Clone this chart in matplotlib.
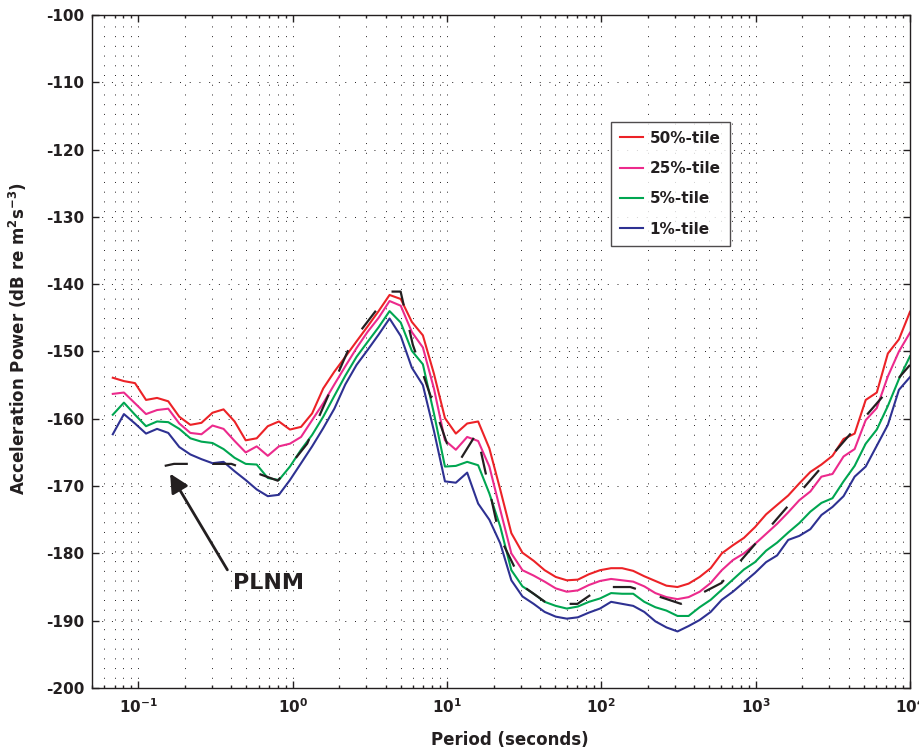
import numpy as np
import matplotlib
matplotlib.use('Agg')
import matplotlib.pyplot as plt
from matplotlib.ticker import LogLocator, LogFormatterMathtext, NullFormatter, MultipleLocator

plt.rcParams['font.family'] = ['DejaVu Sans']
plt.rcParams['font.weight'] = 'bold'
plt.rcParams['mathtext.default'] = 'bf'
plt.rcParams['axes.unicode_minus'] = False

INK = '#231f20'

# period of each spectral estimate (seconds)
period = [0.0682, 0.0805, 0.095, 0.112, 0.132, 0.156, 0.184, 0.217, 0.256, 0.302,
          0.356, 0.420, 0.4955, 0.584, 0.689, 0.813, 0.959, 1.132, 1.335, 1.575,
          1.86, 2.19, 2.59, 3.05, 3.60, 4.24, 5.01, 5.91, 6.97, 8.22,
          9.69, 11.4, 13.5, 15.9, 18.8, 22.1, 26.1, 30.8, 36.4, 42.9,
          50.6, 59.7, 70.4, 83.04, 97.95, 115.6, 136.3, 160.8, 189.7, 223.8,
          264.0, 311.4, 367.3, 433.4, 511.0, 603.0, 711.2, 839.0, 989.7, 1168.0,
          1377.0, 1625.0, 1917.0, 2261.0, 2667.0, 3146.0, 3711.0, 4378.0, 5164.0, 6093.0,
          7187.0, 8478.0, 10000.0]

p50 = [-153.9, -154.4, -154.7, -157.2, -156.9, -157.4, -159.7, -160.9, -160.6, -159.1,
       -158.6, -160.4, -163.2, -162.9, -161.1, -160.4, -161.6, -161.2, -159.2, -155.5,
       -153.0, -150.8, -148.5, -146.3, -144.0, -141.6, -142.2, -145.6, -147.6, -153.3,
       -159.9, -162.2, -160.7, -160.4, -164.4, -170.5, -177.0, -179.9, -181.1, -182.5,
       -183.5, -184.0, -183.9, -183.1, -182.5, -182.2, -182.2, -182.6, -183.4, -184.1,
       -184.8, -185.0, -184.5, -183.5, -182.2, -180.0, -178.8, -177.7, -176.1, -174.2,
       -172.8, -171.4, -169.6, -167.9, -166.8, -165.5, -163.0, -162.2, -157.2, -156.1,
       -150.3, -148.2, -144.1]

p25 = [-156.3, -156.1, -157.7, -159.3, -158.7, -158.5, -160.7, -162.1, -162.3, -161.0,
       -161.5, -163.3, -165.0, -164.1, -165.5, -164.1, -163.7, -162.7, -160.2, -157.7,
       -154.9, -152.2, -149.5, -147.1, -145.0, -142.5, -143.2, -147.1, -149.4, -155.5,
       -163.2, -164.6, -162.7, -163.3, -167.1, -173.5, -180.0, -182.5, -183.3, -184.2,
       -185.2, -185.7, -185.5, -184.7, -184.1, -183.8, -184.0, -184.2, -184.9, -185.9,
       -186.5, -186.8, -186.5, -185.7, -184.4, -182.5, -181.0, -180.0, -178.6, -177.1,
       -175.6, -173.9, -172.1, -170.8, -168.6, -168.2, -165.6, -164.5, -160.2, -158.4,
       -153.7, -150.0, -147.2]

p5 = [-159.4, -157.6, -159.4, -161.1, -160.4, -160.5, -161.5, -162.9, -163.4, -163.6,
      -164.5, -165.8, -166.7, -166.8, -168.8, -169.1, -167.1, -164.6, -162.4, -159.7,
      -156.6, -153.6, -150.8, -148.6, -146.4, -144.0, -145.7, -149.9, -151.9, -159.2,
      -167.1, -167.0, -166.4, -166.9, -171.1, -176.0, -182.5, -184.9, -186.0, -187.2,
      -187.8, -188.2, -187.9, -187.2, -186.7, -185.9, -186.0, -186.0, -187.2, -188.0,
      -188.5, -189.3, -189.3, -188.0, -186.9, -185.4, -183.9, -182.4, -181.3, -179.6,
      -178.4, -176.9, -175.5, -173.8, -172.5, -171.8, -169.3, -167.0, -163.7, -161.6,
      -158.1, -154.1, -150.7]

p1 = [-162.3, -159.3, -160.7, -162.2, -161.5, -162.1, -164.2, -165.3, -166.0, -166.6,
      -166.4, -167.8, -169.1, -170.5, -171.5, -171.3, -169.1, -166.6, -164.1, -161.4,
      -158.5, -154.9, -152.0, -149.8, -147.5, -145.1, -147.7, -152.4, -155.0, -161.8,
      -169.3, -169.5, -168.0, -172.6, -175.0, -178.5, -184.0, -186.4, -187.5, -188.7,
      -189.4, -189.7, -189.5, -188.8, -188.2, -187.2, -187.5, -187.8, -188.7, -190.1,
      -191.0, -191.6, -190.8, -189.9, -188.7, -186.9, -185.7, -184.3, -182.9, -181.3,
      -180.3, -178.0, -177.4, -176.4, -174.3, -173.1, -171.5, -168.6, -167.1, -164.0,
      -160.9, -155.7, -153.8]

# low noise model
plnm_period = [0.148, 0.17, 0.40, 0.80, 1.24, 2.40, 4.30, 5.00, 6.00, 10.0, 12.0,
               15.6, 21.9, 31.6, 45.0, 70.0, 101.0, 154.0, 328.0, 600.0, 10000.0]
plnm_db = [-167.0, -166.7, -166.7, -169.2, -163.7, -148.7, -141.1, -141.1, -149.0, -163.7, -166.3,
           -162.1, -177.5, -185.0, -187.5, -187.5, -185.0, -185.0, -187.5, -184.4, -152.0]

series = [('50%-tile', p50, '#ec2227'),
          ('25%-tile', p25, '#ec2a8c'),
          ('5%-tile', p5, '#00a651'),
          ('1%-tile', p1, '#2e3192')]

fig = plt.figure(figsize=(9.19, 7.5), dpi=100)
ax = fig.add_axes([0.1001, 0.0827, 0.8901, 0.8973])

for label, vals, col in series:
    ax.plot(period, vals, color=col, lw=1.5, label=label)

ax.plot(plnm_period, plnm_db, color=INK, lw=1.6, linestyle=(0, (10.5, 11.3)))

ax.set_xscale('log')
ax.set_xlim(0.05, 1e4)
ax.set_ylim(-200, -100)
ax.yaxis.set_major_locator(MultipleLocator(10))
ax.xaxis.set_major_locator(LogLocator(base=10))
ax.xaxis.set_major_formatter(LogFormatterMathtext())
ax.xaxis.set_minor_locator(LogLocator(base=10, subs=np.arange(2, 10)))
ax.xaxis.set_minor_formatter(NullFormatter())

ax.grid(True, which='both', axis='x', color=INK, lw=0.7, linestyle=(0, (1, 9)))
ax.grid(True, which='major', axis='y', color=INK, lw=0.7, linestyle=(0, (1, 9)))

ax.tick_params(which='both', direction='in', top=True, right=True, width=1, colors=INK)
ax.tick_params(which='major', length=5)
ax.tick_params(which='minor', length=2.5)
ax.tick_params(axis='x', pad=7, labelsize=11)
ax.tick_params(axis='y', pad=5.5, labelsize=11)
for s in ax.spines.values():
    s.set_linewidth(1.0)
    s.set_color(INK)

ax.set_xlabel('Period (seconds)', fontsize=12, fontweight='bold', color=INK)
ax.set_ylabel('Acceleration Power (dB re m$^{2}$s$^{-3}$)', fontsize=12, fontweight='bold', color=INK)
ax.xaxis.set_label_coords(0.511, -0.064)
ax.yaxis.set_label_coords(-0.077, 0.52)

leg = ax.legend(loc='upper left', bbox_to_anchor=(0.634, 0.8415), fontsize=11, frameon=True,
                fancybox=False, edgecolor=INK, borderaxespad=0, handlelength=1.5,
                handletextpad=0.45, labelspacing=1.0, borderpad=0.6)
leg.get_frame().set_linewidth(1.0)
for t in leg.get_texts():
    t.set_color(INK)

# arrow pointing at the PLNM curve
ax.annotate('', xy=(0.157, -167.8), xytext=(0.385, -182.8),
            arrowprops=dict(arrowstyle='-|>', mutation_scale=28, lw=2, color=INK))
ax.text(0.41, -184.4, 'PLNM', fontsize=16, fontweight='bold', color=INK, ha='left', va='center')

fig.savefig('out.png', dpi=100)
